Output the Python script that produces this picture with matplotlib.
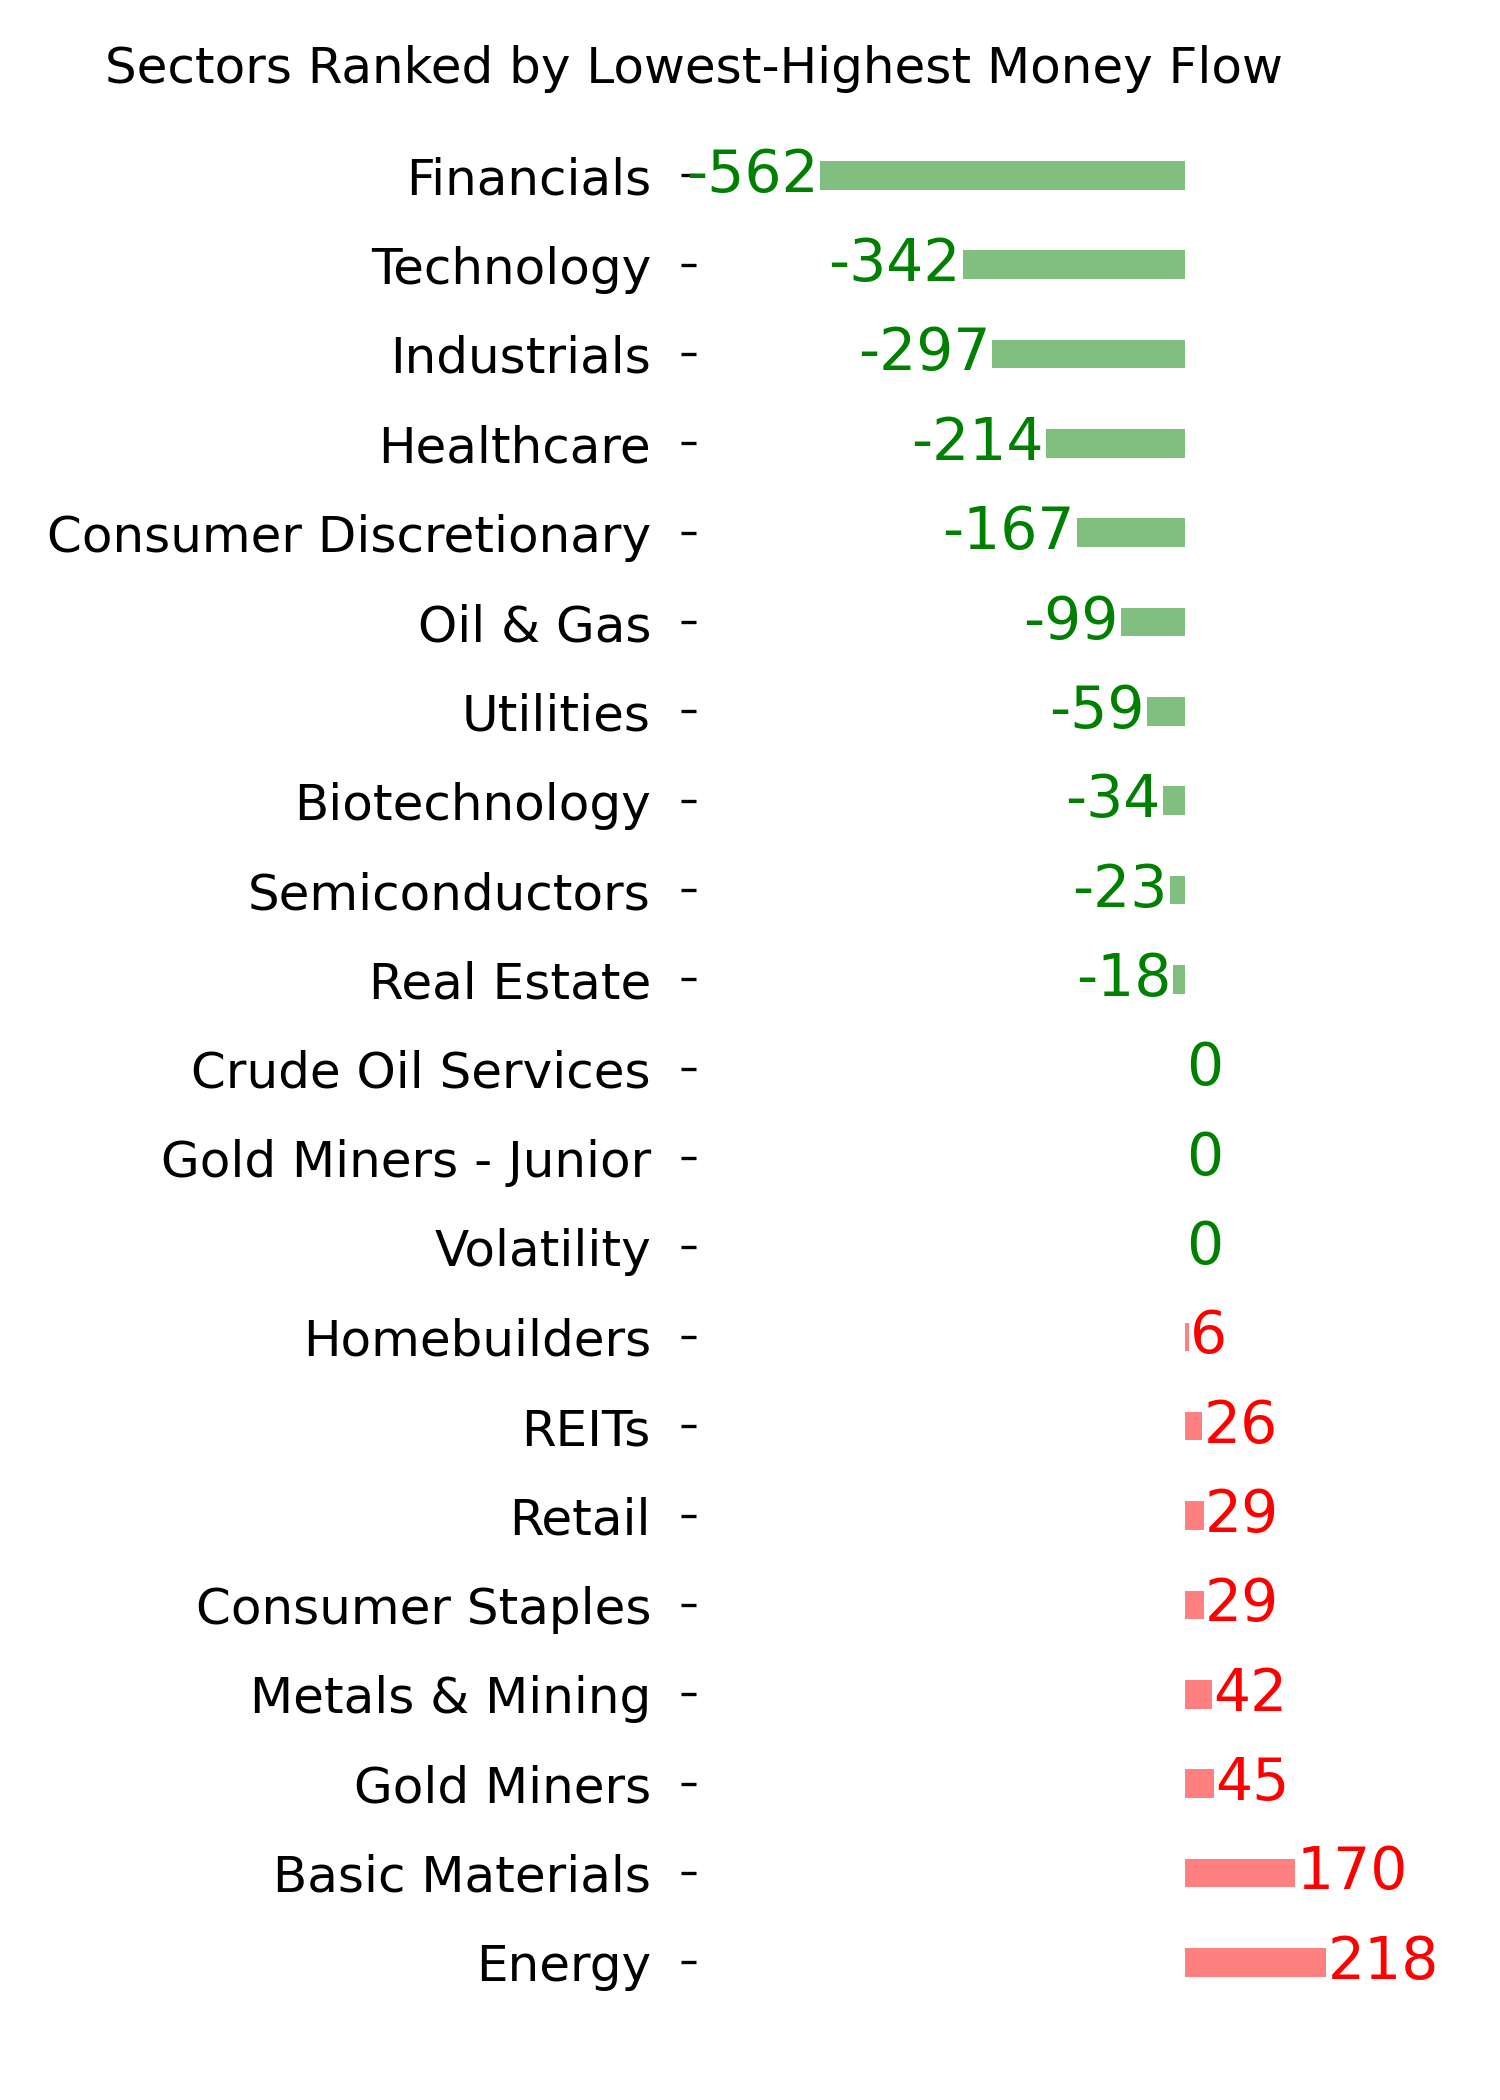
import matplotlib
matplotlib.use("Agg")
import matplotlib.pyplot as plt
import numpy as np

sectors = ["Financials", "Technology", "Industrials", "Healthcare",
           "Consumer Discretionary", "Oil & Gas", "Utilities", "Biotechnology",
           "Semiconductors", "Real Estate", "Crude Oil Services",
           "Gold Miners - Junior", "Volatility", "Homebuilders", "REITs",
           "Retail", "Consumer Staples", "Metals & Mining", "Gold Miners",
           "Basic Materials", "Energy"]
flow = [-562, -342, -297, -214, -167, -99, -59, -34, -23, -18, 0, 0, 0,
        6, 26, 29, 29, 42, 45, 170, 218]

fig = plt.figure(figsize=(5, 7), dpi=300)
ax = fig.add_axes([0.464, 0.0443, 0.50, 0.8935])

y = np.arange(len(sectors))
bar_cols = ["#80bf80" if v <= 0 else "#ff8080" for v in flow]
ax.barh(y, flow, height=0.32, color=bar_cols)

for yi, v in zip(y, flow):
    if v < 0:
        ax.annotate(f"{v}", (v, yi), xytext=(-0.5, 0), textcoords="offset points",
                    ha="right", va="center", color="green", fontsize=14)
    else:
        ax.annotate(f"{v}", (v, yi), xytext=(0.4, 0), textcoords="offset points",
                    ha="left", va="center", color="green" if v == 0 else "red",
                    fontsize=14)

ax.set_xlim(-754, 403)
ax.set_ylim(len(sectors) - 0.5, -0.5)
ax.set_yticks(y)
ax.set_yticklabels(sectors, fontsize=12)
ax.tick_params(axis="y", pad=7.3)
ax.set_xticks([])
for s in ax.spines.values():
    s.set_visible(False)

fig.text(0.4625, 0.9605, "Sectors Ranked by Lowest-Highest Money Flow",
         ha="center", va="baseline", fontsize=12)

fig.savefig("out.png", dpi=300)
